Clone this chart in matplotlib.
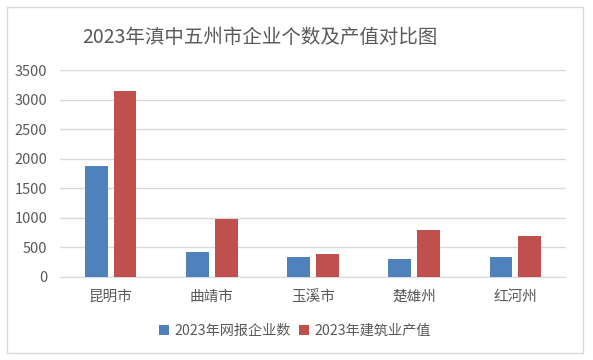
import matplotlib
matplotlib.use("Agg")
import matplotlib.pyplot as plt
import numpy as np
from matplotlib.patches import Rectangle

plt.rcParams['font.family'] = ['Noto Sans CJK SC', 'DejaVu Sans']

# --- data ---
cities = ["昆明市", "曲靖市", "玉溪市", "楚雄州", "红河州"]
enterprises = [1870, 430, 345, 305, 345]      # 2023年网报企业数
output_value = [3150, 975, 390, 790, 695]     # 2023年建筑业产值
series_names = ["2023年网报企业数", "2023年建筑业产值"]

title = "2023年滇中五州市企业个数及产值对比图"
yticks = [0, 500, 1000, 1500, 2000, 2500, 3000, 3500]

c_blue = "#4F81BD"
c_red = "#C0504D"
txt = "#595959"

W, H = 593, 360
fig = plt.figure(figsize=(W / 100, H / 100), dpi=100)
fig.patch.set_facecolor("white")

# outer chart frame
fig.patches.append(Rectangle((7 / W, 1 - 353 / H), 576 / W, 346 / H,
                             transform=fig.transFigure, fill=False,
                             edgecolor="#D9D9D9", linewidth=1.0))

ax = fig.add_axes([60 / W, 1 - 277 / H, 506 / W, 207 / H])
x = np.arange(len(cities))
w = 0.225
ax.bar(x - 0.142, enterprises, w, color=c_blue, label=series_names[0], zorder=3)
ax.bar(x + 0.142, output_value, w, color=c_red, label=series_names[1], zorder=3)

ax.set_xlim(-0.5, len(cities) - 0.5)
ax.set_ylim(0, 3500)
ax.set_yticks(yticks)
ax.set_yticklabels([str(v) for v in yticks])
ax.set_xticks(x)
ax.set_xticklabels(cities)
ax.tick_params(axis='both', length=0, colors=txt, labelsize=10.5)
ax.tick_params(axis='y', pad=9)
ax.tick_params(axis='x', pad=9)
ax.grid(axis='y', color="#D9D9D9", linewidth=1.0, zorder=0)
for s in ["top", "right", "left"]:
    ax.spines[s].set_visible(False)
ax.spines["bottom"].set_color("#D9D9D9")

fig.text(260 / W, 1 - 37 / H, title, ha='center', va='center',
         fontsize=14, color=txt)

fig.legend(loc='center', bbox_to_anchor=(295 / W, 1 - 331 / H), ncol=2,
           frameon=False, fontsize=10.2, labelcolor=txt,
           handlelength=0.7, handleheight=0.7, handletextpad=0.4,
           columnspacing=0.6)

fig.savefig("out.png", dpi=100)
